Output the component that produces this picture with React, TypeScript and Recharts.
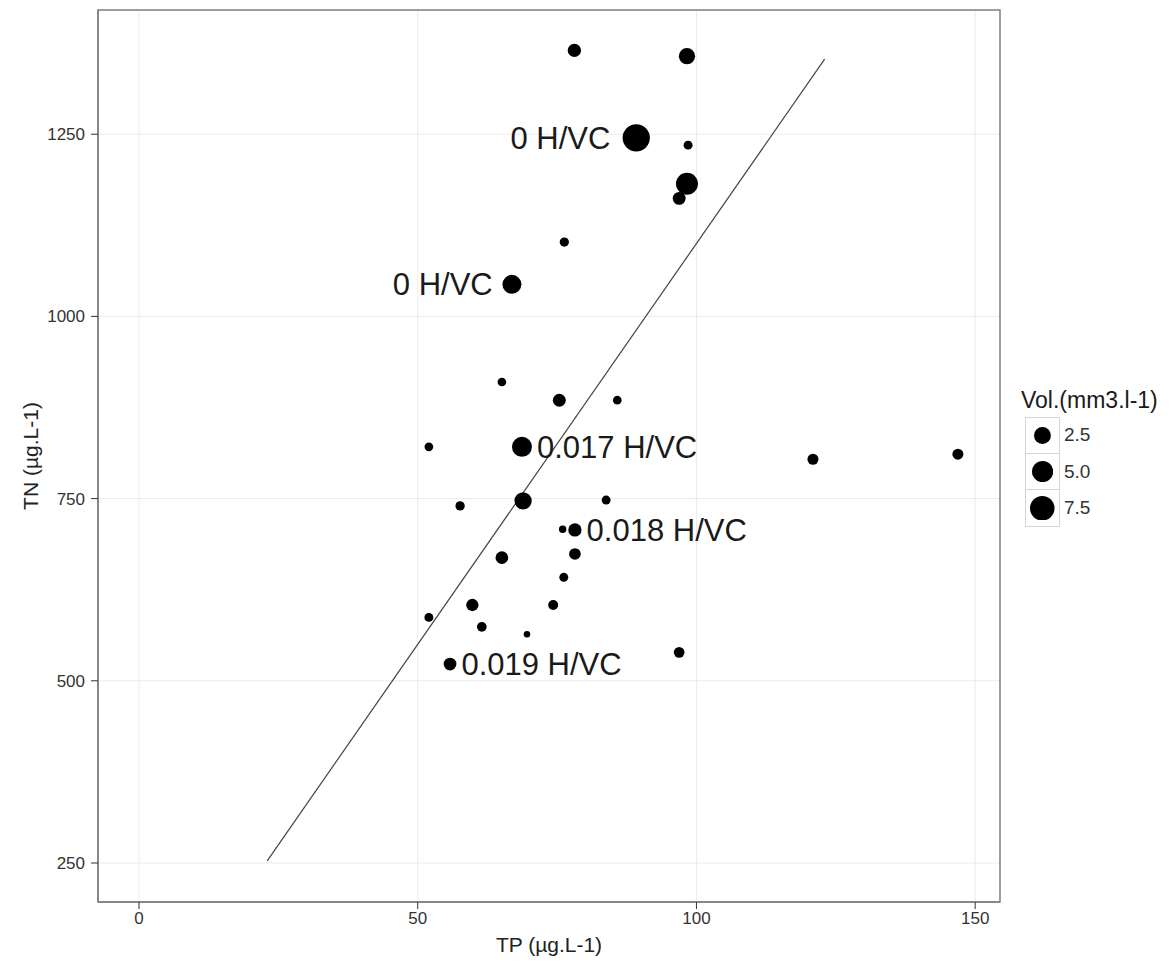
import React from 'react';
import {
  ScatterChart,
  Scatter,
  XAxis,
  YAxis,
  ZAxis,
  CartesianGrid,
  ReferenceLine,
  ReferenceArea,
} from 'recharts';

// ---- data ----
const TP = [78.1, 98.3, 89.2, 98.5, 98.3, 96.9, 76.3, 66.9, 65.1, 75.4, 85.8, 52.0, 68.7, 120.9, 146.9, 57.6, 68.9, 83.8, 76.0, 78.2, 78.2, 65.1, 76.2, 59.8, 74.3, 52.0, 61.5, 69.6, 96.9, 55.8];
const TN = [1365, 1357, 1245, 1235, 1182, 1162, 1102, 1044, 910, 885, 885, 821, 821, 804, 811, 740, 747, 748, 708, 707, 674, 669, 642, 604, 604, 587, 574, 564, 539, 523];
const VOL = [1.07, 2.2, 10, 0.14, 5.5, 0.95, 0.18, 3.6, 0.11, 0.95, 0.11, 0.11, 4.2, 0.47, 0.47, 0.18, 2.7, 0.14, 0.02, 1.07, 0.62, 0.89, 0.14, 0.78, 0.28, 0.14, 0.24, 0, 0.41, 0.89];
const LABELS = ['', '', '0 H/VC', '', '', '', '', '0 H/VC', '', '', '', '', '0.017 H/VC', '', '', '', '', '', '', '0.018 H/VC', '', '', '', '', '', '', '', '', '', '0.019 H/VC'];

const X_TICKS = [0, 50, 100, 150];
const Y_TICKS = [250, 500, 750, 1000, 1250];
const X_LIMITS = [0, 147.1];
const Y_LIMITS = [252.1, 1364.8];
const LEGEND_BREAKS = [2.5, 5.0, 7.5];
const LEGEND_LABELS = ['2.5', '5.0', '7.5'];
const TREND_LINE = [
  { tp: 23, tn: 253 },
  { tp: 123, tn: 1353 },
];

// ---- scale settings ----
const Z_DOMAIN = [0, 10];
const Z_RANGE = [6.5, 27.3]; // point diameter in px (sqrt scale, like ggplot scale_size)
const LEFT_LABELS = new Set(['0 H/VC']);

const expand = (lim: number[]) => {
  const r = lim[1] - lim[0];
  return [lim[0] - 0.05 * r, lim[1] + 0.05 * r];
};

const diameterOf = (v: number) =>
  Z_RANGE[0] + (Z_RANGE[1] - Z_RANGE[0]) * Math.sqrt((v - Z_DOMAIN[0]) / (Z_DOMAIN[1] - Z_DOMAIN[0]));

const data = TP.map((tp, i) => ({ tp, tn: TN[i], vol: VOL[i], label: LABELS[i] }));

const FONT = '"Liberation Sans", Arial, Helvetica, sans-serif';
const BORDER = '#808080';

const PointShape = (props: any) => {
  const { cx, cy, size, payload } = props;
  const r = size / 2;
  const label: string = payload?.label || '';
  const left = LEFT_LABELS.has(label);
  return (
    <g>
      <circle cx={cx} cy={cy} r={r} fill="#000" />
      {label ? (
        <text
          x={left ? cx - (r * 1.6 + 4) : cx + r + 5}
          y={cy}
          dy="0.36em"
          textAnchor={left ? 'end' : 'start'}
          fontFamily={FONT}
          fontSize={31}
          fill="#1a1a1a"
        >
          {label}
        </text>
      ) : null}
    </g>
  );
};

export default function App() {
  const xDomain = expand(X_LIMITS);
  const yDomain = expand(Y_LIMITS);
  return (
    <div style={{ position: 'absolute', left: 0, top: 0, width: 1172, height: 972, background: '#fff', fontFamily: FONT }}>
      <ScatterChart width={1172} height={972} margin={{ top: 10, right: 172, bottom: 0, left: 0 }}>
        <CartesianGrid stroke="#ebebeb" strokeWidth={1} />
        <XAxis
          type="number"
          dataKey="tp"
          domain={xDomain}
          ticks={X_TICKS}
          allowDataOverflow
          height={70}
          tickSize={7}
          tickMargin={3}
          axisLine={{ stroke: BORDER, strokeWidth: 1.5 }}
          tickLine={{ stroke: '#333' }}
          tick={{ fill: '#333', fontSize: 17, fontFamily: FONT }}
          label={{ value: 'TP (µg.L-1)', position: 'insideBottom', offset: 20, fill: '#222', fontSize: 21, fontFamily: FONT }}
        />
        <YAxis
          type="number"
          dataKey="tn"
          domain={yDomain}
          ticks={Y_TICKS}
          allowDataOverflow
          width={98}
          tickSize={7}
          tickMargin={6}
          axisLine={{ stroke: BORDER, strokeWidth: 1.5 }}
          tickLine={{ stroke: '#333' }}
          tick={{ fill: '#333', fontSize: 17, fontFamily: FONT }}
          label={{ value: 'TN (µg.L-1)', angle: -90, position: 'insideLeft', offset: 31, fill: '#222', fontSize: 21, fontFamily: FONT, style: { textAnchor: 'middle' } }}
        />
        <ZAxis type="number" dataKey="vol" domain={Z_DOMAIN} range={Z_RANGE} scale="sqrt" />
        <ReferenceArea
          x1={xDomain[0]}
          x2={xDomain[1]}
          y1={yDomain[0]}
          y2={yDomain[1]}
          fill="none"
          fillOpacity={0}
          stroke={BORDER}
          strokeWidth={1.5}
          ifOverflow="visible"
        />
        <ReferenceLine
          segment={[{ x: TREND_LINE[0].tp, y: TREND_LINE[0].tn }, { x: TREND_LINE[1].tp, y: TREND_LINE[1].tn }]}
          stroke="#444"
          strokeWidth={1.2}
          ifOverflow="visible"
        />
        <Scatter
          data={data}
          fill="#000"
          shape={PointShape}
          isAnimationActive={false}
        />
      </ScatterChart>
      <div style={{ position: 'absolute', left: 1021, top: 386, color: '#1a1a1a' }}>
        <div style={{ fontSize: 23, lineHeight: '28px', whiteSpace: 'nowrap' }}>Vol.(mm3.l-1)</div>
        <div style={{ marginLeft: 4, marginTop: 3 }}>
          {LEGEND_BREAKS.map((v, i) => {
            const d = diameterOf(v);
            return (
              <div key={i} style={{ display: 'flex', alignItems: 'center', height: 36.5 }}>
                <div
                  style={{
                    width: 35,
                    height: 36.5,
                    boxSizing: 'border-box',
                    border: '1px solid #d4d4d4',
                    borderTopWidth: i === 0 ? 1 : 0,
                    display: 'flex',
                    alignItems: 'center',
                    justifyContent: 'center',
                  }}
                >
                  <svg width={d} height={d}>
                    <circle cx={d / 2} cy={d / 2} r={d / 2} fill="#000" />
                  </svg>
                </div>
                <div style={{ marginLeft: 4, fontSize: 19, color: '#333' }}>{LEGEND_LABELS[i]}</div>
              </div>
            );
          })}
        </div>
      </div>
    </div>
  );
}
